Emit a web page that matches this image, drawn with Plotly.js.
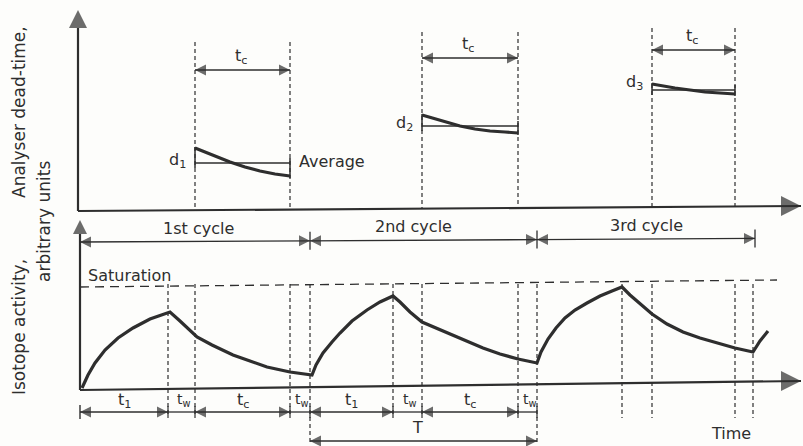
<!DOCTYPE html>
<html><head><meta charset="utf-8">
<script src="https://cdn.plot.ly/plotly-3.0.1.min.js"></script>
<style>html,body{margin:0;padding:0;background:#fff}</style>
</head><body><div id="chart" style="width:803px;height:446px"></div>
<script>
// ---- data (time on x, drawing units on y) ----
const cycleBounds = [80, 310, 537, 755];
const cycleLabels = ['1st cycle', '2nd cycle', '3rd cycle'];
const irradEnd   = [168, 393, 622];   // end of t1
const countStart = [195, 422, 652];   // start of tc
const countEnd   = [290, 518, 735];   // end of tc
const cycleEnd   = [310, 537, 753];   // end of tw
const saturation = 284;
const activityT = [82,88,95,105,118,133,150,170, 180,190,197,212,233,250,267,290,312,
                   316,323,332,340,352,367,380,393, 400,410,422,436,450,467,483,500,518,537,
                   541,548,556,565,575,587,600,612,622, 630,640,652,667,683,700,717,735,753, 760,768];
const activityV = [388,375,363,350,338,328,319,312, 321,331,337,345,355,361,367,372,375,
                   365,353,342,333,321,310,302,296, 302,312,322,328,334,341,348,354,359,363,
                   352,339,328,318,310,303,296,291,287, 295,304,314,324,332,338,343,348,352, 341,331];
const dead1T = [195,205,215,230,245,260,275,290];
const dead1V = [148,152,156,162,167,171,174,176];
const dead2T = [422,432,445,460,475,490,505,518];
const dead2V = [115,118,122,126,129,131,132,133];
const dead3T = [652,662,675,690,705,720,735];
const dead3V = [84,86,88,90,92,93,94];
const deadAvg = [163, 126, 90];
const deadLabels = ['d<sub>1</sub>', 'd<sub>2</sub>', 'd<sub>3</sub>'];
const segLabels = ['t<sub>1</sub>', 't<sub>w</sub>', 't<sub>c</sub>', 't<sub>w</sub>'];

// ---- drawing ----
const INK = '#2e2e2e';
const FONT = {family: 'DejaVu Sans, Noto Sans, sans-serif', size: 16, color: INK};
const traces = [];
const ann = [];

function seg(x0, y0, x1, y1, w, dash) {
  traces.push({x:[x0,x1], y:[y0,y1], mode:'lines', line:{color:INK, width:w||1.3, dash:dash||'solid'}, hoverinfo:'skip'});
}
// line with arrowhead markers (tip sits on the end point)
function arrowLine(x0, y0, x1, y1, startSym, endSym, size, w) {
  traces.push({x:[x0,x1], y:[y0,y1], mode:'lines+markers', hoverinfo:'skip',
    line:{color:INK, width:w||1.3},
    marker:{symbol:[startSym||'circle', endSym||'circle'], size:[startSym ? size : 0, endSym ? size : 0],
            color:INK, line:{width:0}}});
}
function txt(x, y, t, opts) {
  ann.push(Object.assign({x:x, y:y, xref:'x', yref:'y', text:t, showarrow:false, font:FONT}, opts||{}));
}
function dashedV(xs, tops, bots) {
  const X = [], Y = [];
  xs.forEach((x, i) => { X.push(x, x, null); Y.push(tops[i], bots[i], null); });
  traces.push({x:X, y:Y, mode:'lines', line:{color:INK, width:1.2, dash:'4px,3px'}, hoverinfo:'skip'});
}

// axes (top panel)
arrowLine(78, 211, 78, 10, null, 'arrow-up', 18, 2.2);
arrowLine(78, 211, 801, 206, null, 'arrow-right', 20, 2.2);
// axes (bottom panel)
arrowLine(80, 390, 80, 220, null, 'arrow-up', 14, 2.2);
arrowLine(80, 390, 801, 381, null, 'arrow-right', 20, 2.2);

// saturation
traces.push({x:[80, 777], y:[287, 280], mode:'lines', line:{color:INK, width:1.3, dash:'9px,6px'}, hoverinfo:'skip'});
txt(86, 275, 'Saturation', {xanchor:'left'});

// cycle arrows
const SA = 11;
for (let i = 0; i < 3; i++) {
  const a = cycleBounds[i], b = cycleBounds[i+1];
  const ya = 242 - i*1.2, yb = 242 - (i+1)*1.2;
  arrowLine(a, ya, b, yb, 'arrow-left', 'arrow-right', SA);
  seg(b, yb-9, b, yb+9, 1.3);
  txt((a+b)/2 + (i===0 ? 3 : (i===1 ? -10 : 0)), ya - 14, cycleLabels[i]);
}

// top panel dashed verticals and tc arrows
const topStarts = [42, 32, 28];
const topArrowY = [70, 58, 50];
const xsTop = [], tTop = [], bTop = [];
for (let i = 0; i < 3; i++) {
  xsTop.push(countStart[i], countEnd[i]);
  tTop.push(topStarts[i], topStarts[i]);
  bTop.push(210 - i*1.5, 210 - i*1.5);
  arrowLine(countStart[i], topArrowY[i], countEnd[i], topArrowY[i], 'arrow-left', 'arrow-right', SA);
  txt((countStart[i]+countEnd[i])/2 - 2, topArrowY[i] - 14, 't<sub>c</sub>');
}
dashedV(xsTop, tTop, bTop);

// dead-time curves and averages
[[dead1T, dead1V], [dead2T, dead2V], [dead3T, dead3V]].forEach((d, i) => {
  traces.push({x:d[0], y:d[1], mode:'lines', line:{color:INK, width:3.2}, hoverinfo:'skip'});
  const a = countStart[i], b = countEnd[i];
  seg(a, deadAvg[i], b, deadAvg[i], 1.3);
  seg(a, d[1][0]-1, a, deadAvg[i]+5, 1.5);
  seg(b, deadAvg[i]-5, b, d[1][d[1].length-1]+2, 1.5);
  txt(a - 7, deadAvg[i] - 3 - (i===2 ? 5 : 0), deadLabels[i], {xanchor:'right'});
});
txt(297, 161, 'Average', {xanchor:'left'});

// bottom dashed verticals
const xsB = [], tB = [], bB = [];
for (let i = 0; i < 3; i++) {
  [irradEnd[i], countStart[i], countEnd[i], cycleEnd[i]].forEach((x, k) => {
    xsB.push(x); tB.push(saturation);
    bB.push(i === 2 ? 418 : (k === 3 ? 442 : 414));
  });
}
dashedV(xsB, tB, bB);

// activity curve
traces.push({x:activityT, y:activityV, mode:'lines', line:{color:INK, width:3.2}, hoverinfo:'skip'});

// bottom interval arrows
const rowY = 412;
seg(80, rowY-7, 80, rowY+7, 1.4);
for (let i = 0; i < 2; i++) {
  const pts = [i === 0 ? 80 : cycleEnd[i-1], irradEnd[i], countStart[i], countEnd[i], cycleEnd[i]];
  for (let k = 0; k < 4; k++) {
    const a = pts[k], b = pts[k+1];
    if (k === 0 || k === 2) arrowLine(a, rowY, b, rowY, 'arrow-left', 'arrow-right', SA);
    else seg(a, rowY, b, rowY, 1.3);
    seg(b, rowY-6, b, rowY+6, 1.2);
    txt((a+b)/2 + (k % 2 ? 2 : 0), rowY - 12, segLabels[k], {font:Object.assign({}, FONT, {size: k % 2 ? 14 : 16})});
  }
}
// period T
arrowLine(cycleEnd[0], 441, cycleEnd[1], 441, 'arrow-left', 'arrow-right', SA);
txt((cycleEnd[0]+cycleEnd[1])/2 - 6, 427, 'T');
txt(731, 433, 'Time');

// axis titles
const TFONT = Object.assign({}, FONT, {size: 17});
txt(19, 112, 'Analyser dead-time,', {textangle:-90, font:TFONT});
txt(44, 222, 'arbitrary units', {textangle:-90, font:TFONT});
txt(19, 327, 'Isotope activity,', {textangle:-90, font:TFONT});

Plotly.newPlot('chart', traces, {
  width: 803, height: 446,
  margin: {l:0, r:0, t:0, b:0},
  paper_bgcolor: '#fdfdfb', plot_bgcolor: '#fdfdfb',
  showlegend: false,
  xaxis: {range:[0, 803], visible:false, fixedrange:true},
  yaxis: {range:[446, 0], visible:false, fixedrange:true},
  annotations: ann
}, {staticPlot: true});
</script></body></html>
